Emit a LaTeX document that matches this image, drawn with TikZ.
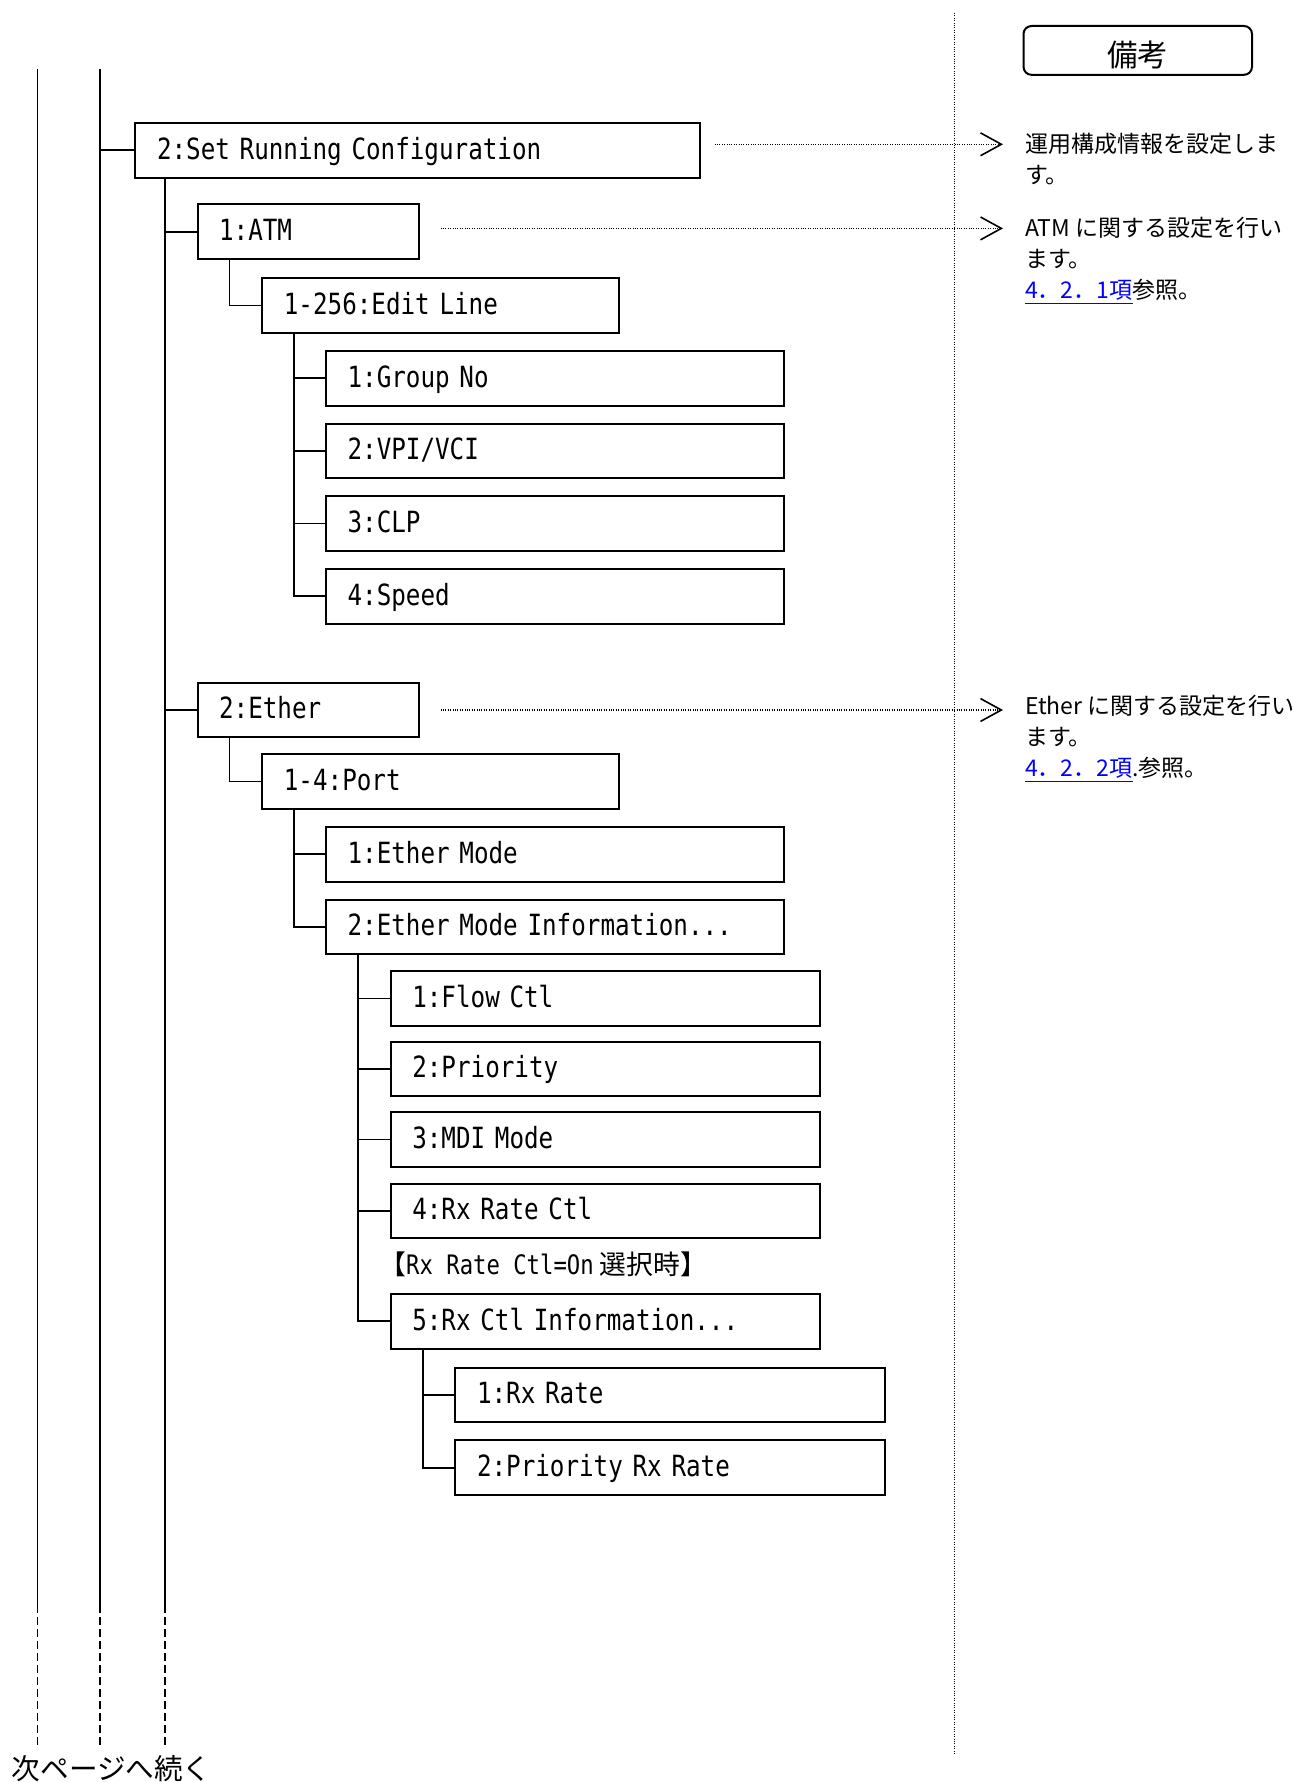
\documentclass[tikz,border=0pt]{standalone}
\usepackage{fontspec}
\usetikzlibrary{arrows.meta}
\newfontfamily\jpfont{Noto Sans CJK JP}
\newfontfamily\boxfont[FakeStretch=0.83]{DejaVu Sans Mono}
\definecolor{linkblue}{RGB}{0,0,255}
\newcommand\boxtxt[1]{\hspace*{10.8pt}#1}
\newcommand\lnk[1]{{\color{linkblue}\underline{#1}}}
\begin{document}
\begin{tikzpicture}[x=0.5pt,y=-0.5pt,
  conn/.style={line width=0.85pt},
  contdash/.style={line width=0.85pt, dash pattern=on 4pt off 2pt},
  mbox/.style={draw, line width=1pt, anchor=north west, inner xsep=0pt, inner ysep=0pt,
    minimum height=27.3pt, align=left, text height=11.5pt, text depth=2.6pt,
    font=\boxfont\fontsize{14.6}{17}\selectfont},
  remline/.style={line width=0.6pt, dash pattern=on 0.5pt off 0.7pt,
    -{Straight Barb[length=10.4pt,width=11.4pt,line width=0.8pt]}},
  remark/.style={anchor=north west, inner sep=0pt, align=left,
    font=\jpfont\fontsize{11.5}{15.5}\selectfont},
  dotline/.style={line width=0.6pt, dash pattern=on 0.5pt off 0.7pt}]
\path[use as bounding box, fill=white] (0,0) rectangle (1294,1782);

% separator
\coordinate (sept) at (954.5,13);
\coordinate (sepb) at (954.5,1755);
\draw[dotline] (sept) -- (sepb);

% remark header
\node[draw, rounded corners=4pt, line width=1pt, anchor=north west, inner sep=0pt,
  minimum width=114.25pt, minimum height=24.4pt, text height=16.6pt, text depth=0pt,
  font=\jpfont\fontsize{15.25}{17}\selectfont] (biko) at (1022.5,25) {備考};

% boxes
\node[mbox, text width=282.3pt] (A) at (134.4,122) {\boxtxt{2:Set Running Configuration}};
\node[mbox, text width=110.75pt] (atm) at (196.5,203.4) {\boxtxt{1:ATM}};
\node[mbox, text width=178.4pt] (edit) at (261.3,277.2) {\boxtxt{1-256:Edit Line}};
\node[mbox, text width=228.9pt] (g1) at (325,350) {\boxtxt{1:Group No}};
\node[mbox, text width=228.9pt] (g2) at (325,422.6) {\boxtxt{2:VPI/VCI}};
\node[mbox, text width=228.9pt] (g3) at (325,495.3) {\boxtxt{3:CLP}};
\node[mbox, text width=228.9pt] (g4) at (325,568) {\boxtxt{4:Speed}};
\node[mbox, text width=110.75pt] (ether) at (196.5,681.7) {\boxtxt{2:Ether}};
\node[mbox, text width=178.4pt] (port) at (261.3,753.2) {\boxtxt{1-4:Port}};
\node[mbox, text width=228.9pt] (em1) at (325,826) {\boxtxt{1:Ether Mode}};
\node[mbox, text width=228.9pt] (em2) at (325,898.7) {\boxtxt{2:Ether Mode Information...}};
\node[mbox, text width=214.7pt] (f1) at (389.7,970.2) {\boxtxt{1:Flow Ctl}};
\node[mbox, text width=214.7pt] (f2) at (389.7,1040.7) {\boxtxt{2:Priority}};
\node[mbox, text width=214.7pt] (f3) at (389.7,1111.1) {\boxtxt{3:MDI Mode}};
\node[mbox, text width=214.7pt] (f4) at (389.7,1182.7) {\boxtxt{4:Rx Rate Ctl}};
\node[anchor=west, inner sep=0pt, font=\boxfont\fontsize{13.4}{16}\selectfont] (cond) at (379,1264.5)
  {{\jpfont【}Rx Rate Ctl=On{\jpfont\ 選択時】}};
\node[mbox, text width=214.7pt] (f5) at (389.7,1292.9) {\boxtxt{5:Rx Ctl Information...}};
\node[mbox, text width=214.7pt] (r1) at (454.4,1366.7) {\boxtxt{1:Rx Rate}};
\node[mbox, text width=214.7pt] (r2) at (454.4,1439.4) {\boxtxt{2:Priority Rx Rate}};

% trunk lines
\coordinate (v1t) at (37.5,69);  \coordinate (v1m) at (37.5,1605); \coordinate (v1b) at (37.5,1745);
\coordinate (v2t) at (100,69);   \coordinate (v2m) at (100,1605);  \coordinate (v2b) at (100,1745);
\coordinate (v3m) at (165,1605); \coordinate (v3b) at (165,1745);
\draw[conn] (v1t) -- (v1m); \draw[contdash] (v1m) -- (v1b);
\draw[conn] (v2t) -- (v2m); \draw[contdash] (v2m) -- (v2b);
\draw[conn] (v3m |- A.south) -- (v3m); \draw[contdash] (v3m) -- (v3b);

% connectors
\draw[conn] (A.west -| v2t) -- (A.west);
\draw[conn] (atm.west -| v3m) -- (atm.west);
\draw[conn] (ether.west -| v3m) -- (ether.west);
\draw[conn] ([xshift=16.5pt]atm.south west) |- (edit.west);
\draw[conn] ([xshift=16.5pt]ether.south west) |- (port.west);
\foreach \n in {g1,g2,g3,g4} \draw[conn] ([xshift=16.5pt]edit.south west) |- (\n.west);
\foreach \n in {em1,em2} \draw[conn] ([xshift=16.5pt]port.south west) |- (\n.west);
\foreach \n in {f1,f2,f3,f4,f5} \draw[conn] ([xshift=16.5pt]em2.south west) |- (\n.west);
\foreach \n in {r1,r2} \draw[conn] ([xshift=16.5pt]f5.south west) |- (\n.west);

% remarks
\coordinate (t1) at (1003,144.3);
\coordinate (t2) at (1003,228.4);
\coordinate (t3) at (1003,710);
\draw[remline] (A.east |- t1) ++(13.6,0) -- (t1);
\draw[remline] (atm.east |- t2) ++(20.5,0) -- (t2);
\draw[remline] (ether.east |- t3) ++(20.5,0) -- (t3);
\node[remark] (rem1) at (1024.8,133) {運用構成情報を設定しま\\す。};
\node[remark] (rem2) at (1024.8,217) {ATM に関する設定を行い\\ます。\\\lnk{4．2．1項}参照。};
\node[remark] (rem3) at (1024.8,695.2) {Ether に関する設定を行い\\ます。\\\lnk{4．2．2項}.参照。};

% continuation
\node[anchor=base west, inner sep=0pt, font=\jpfont\fontsize{14.3}{16}\selectfont] (cont) at (11.5,1779) {次ページへ続く};
\end{tikzpicture}
\end{document}
